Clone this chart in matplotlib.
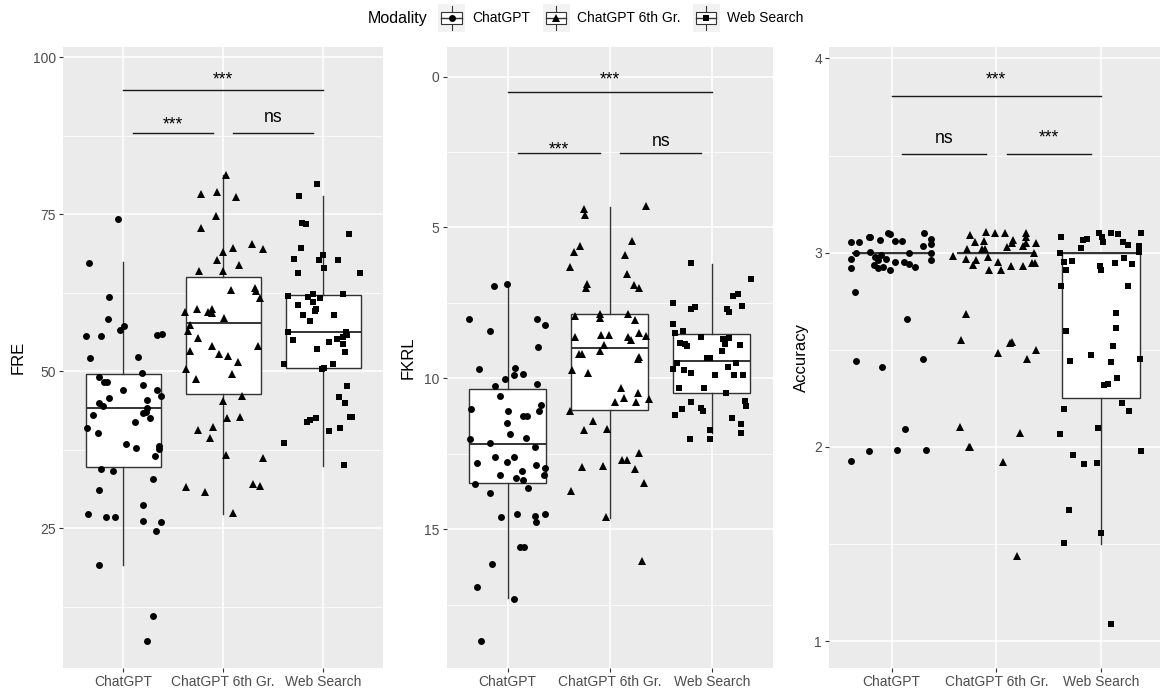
import numpy as np
import matplotlib
matplotlib.use("Agg")
import matplotlib.pyplot as plt
from matplotlib.patches import Rectangle
from matplotlib.lines import Line2D
from matplotlib.legend_handler import HandlerBase
from matplotlib.transforms import offset_copy

plt.rcParams["font.family"] = ["Liberation Sans", "DejaVu Sans"]

# ─────────────────────────────────────────────
# CATEGORIES
# ─────────────────────────────────────────────
MODALITIES = ["ChatGPT", "ChatGPT 6th Gr.", "Web Search"]
MARKERS = ["o", "^", "s"]
MARKER_SIZES = [5.0, 5.6, 4.7]

# ─────────────────────────────────────────────
# BOX STATS  (lower whisker, Q1, median, Q3, upper whisker)
# ─────────────────────────────────────────────
fre_box = [[19.1, 34.8, 44.1, 49.6, 67.4],
           [27.3, 46.4, 57.7, 65.0, 81.3],
           [34.9, 50.5, 56.3, 62.2, 77.9]]
fkrl_box = [[6.88, 10.35, 12.18, 13.48, 17.29],
            [4.31, 7.88, 8.98, 11.05, 14.62],
            [6.22, 8.54, 9.42, 10.49, 11.82]]
acc_box = [[3.0, 3.0, 3.0, 3.0, 3.0],
           [3.0, 3.0, 3.0, 3.0, 3.0],
           [1.50, 2.25, 3.0, 3.0, 3.0]]

# ─────────────────────────────────────────────
# JITTERED POINTS  (x jitter around the category, value)
# ─────────────────────────────────────────────
fre_gpt_jit = [-0.05, -0.34, -0.14, -0.15, -0.03, 0.01, -0.37, -0.22, 0.34, 0.39, -0.33, 0.15, 0.19,
               -0.24, -0.19, -0.16, 0.20, 0.0, 0.34, 0.38, -0.14, 0.24, -0.24, -0.20, 0.24, 0.20,
               0.23, -0.30, 0.27, 0.12, -0.36, -0.25, 0.03, 0.13, 0.36, 0.36, 0.32, -0.22, -0.10,
               0.30, -0.24, 0.20, -0.35, -0.17, -0.08, 0.20, 0.38, 0.33, -0.24, 0.30, 0.24]
fre_gpt_val = [74.2, 67.3, 61.8, 58.3, 56.6, 57.2, 55.7, 55.7, 55.8, 56.0, 52.1, 52.3, 49.7,
               49.1, 48.3, 48.3, 47.8, 47.0, 47.0, 46.1, 45.8, 45.5, 44.9, 44.5, 44.1, 43.4,
               43.5, 43.1, 42.5, 41.9, 40.9, 40.1, 38.4, 37.8, 38.1, 37.6, 36.5, 34.5, 34.1,
               32.8, 31.1, 28.7, 27.3, 26.8, 26.8, 26.2, 26.0, 24.5, 19.1, 11.1, 7.0]

fre_g6_jit = [0.03, -0.22, -0.06, 0.13, -0.07, -0.22, 0.29, 0.10, 0.40, 0.0, -0.06, 0.16, -0.24,
              0.0, 0.08, 0.32, 0.33, 0.37, -0.38, -0.26, -0.15, -0.11, -0.11, 0.01, -0.33, -0.35,
              -0.25, 0.35, -0.11, -0.04, 0.05, -0.33, 0.15, -0.37, 0.09, -0.27, 0.0, 0.19, 0.04,
              0.17, -0.25, -0.10, -0.13, 0.03, 0.40, -0.37, -0.18, 0.30, 0.37, 0.10]
fre_g6_val = [81.3, 78.3, 78.6, 77.7, 74.8, 72.9, 70.3, 69.7, 69.4, 69.0, 67.7, 66.9, 66.0,
              66.0, 63.0, 63.2, 62.8, 61.7, 59.4, 60.0, 59.5, 60.0, 59.3, 58.5, 57.3, 56.4,
              55.3, 54.1, 54.0, 52.8, 52.5, 53.2, 51.5, 50.3, 49.5, 48.7, 45.2, 46.0, 42.5,
              42.8, 40.6, 41.1, 39.4, 36.6, 36.2, 31.6, 30.7, 32.0, 31.7, 27.5]

fre_web_jit = [-0.06, -0.24, -0.21, -0.17, 0.26, -0.22, -0.29, 0.0, -0.04, 0.15, 0.01, -0.25, 0.37,
               -0.35, -0.15, -0.10, -0.03, 0.20, -0.25, -0.10, -0.07, -0.08, -0.20, 0.11, -0.13,
               -0.35, -0.30, 0.23, 0.24, 0.20, 0.14, 0.06, 0.20, -0.06, 0.22, -0.39, 0.10, 0.01,
               -0.01, 0.24, 0.16, 0.22, 0.27, 0.29, -0.07, -0.16, -0.13, 0.06, 0.17, -0.39, 0.21]
fre_web_val = [79.9, 77.9, 73.6, 73.4, 71.8, 69.6, 67.9, 68.6, 67.7, 67.8, 66.4, 65.7, 65.7,
               62.0, 61.9, 62.3, 61.7, 62.3, 60.5, 61.0, 60.0, 59.6, 58.9, 58.9, 58.0,
               56.2, 55.0, 56.3, 55.8, 55.5, 55.2, 54.7, 54.3, 53.5, 53.1, 51.1, 51.1, 50.5,
               50.4, 47.6, 45.9, 44.9, 42.7, 42.8, 42.6, 41.9, 42.2, 40.5, 40.9, 38.6, 35.0]

fkrl_gpt_jit = [-0.13, -0.01, -0.38, -0.17, 0.29, 0.37, 0.30, -0.28, 0.07, 0.15, 0.06, -0.03, -0.12,
                0.29, -0.08, -0.36, 0.0, 0.33, 0.31, 0.15, 0.19, -0.01, -0.37, -0.17, 0.02, 0.18,
                0.27, -0.30, -0.12, -0.01, 0.06, 0.28, 0.37, -0.08, 0.14, 0.08, 0.36, 0.15, -0.32,
                0.20, -0.17, -0.07, 0.09, 0.27, 0.37, 0.28, 0.12, 0.16, -0.15, -0.30, 0.06, -0.26]
fkrl_gpt_val = [6.93, 6.88, 8.02, 8.43, 8.02, 8.23, 8.95, 9.68, 9.65, 9.87, 9.90, 10.03, 10.25,
                10.19, 10.57, 11.03, 11.08, 10.89, 11.08, 11.24, 11.24, 11.47, 12.02, 12.13, 11.85, 11.99,
                12.28, 12.79, 12.60, 12.76, 12.60, 12.87, 12.96, 13.22, 13.07, 13.29, 13.22, 13.37, 13.50,
                13.64, 13.81, 14.58, 14.50, 14.55, 14.50, 14.75, 15.58, 15.60, 16.15, 16.90, 17.32, 18.70]

fkrl_g6_jit = [-0.25, -0.24, 0.36, 0.22, -0.29, -0.35, 0.15, -0.39, 0.17, -0.22, -0.23, 0.24, 0.29,
               -0.10, 0.18, -0.10, -0.34, 0.25, -0.34, -0.09, -0.01, 0.18, 0.21, 0.29, 0.36, -0.06,
               -0.30, -0.27, -0.10, 0.28, 0.29, -0.37, -0.21, 0.11, 0.05, 0.14, 0.28, 0.26, 0.39,
               -0.39, -0.16, -0.25, -0.03, -0.27, -0.07, 0.12, 0.17, 0.29, 0.25, 0.34, -0.38, -0.04, 0.32]
fkrl_g6_val = [4.40, 4.58, 4.29, 5.45, 5.61, 5.83, 5.91, 6.32, 6.55, 6.88, 7.01, 6.90, 7.01,
               7.87, 7.87, 7.99, 7.95, 8.06, 8.62, 8.58, 8.58, 8.62, 8.73, 8.51, 8.60, 8.89,
               9.19, 9.19, 9.08, 9.37, 9.28, 9.72, 9.83, 10.31, 10.77, 10.66, 10.50, 10.77, 10.69,
               11.07, 11.43, 11.71, 11.69, 12.93, 12.89, 12.70, 12.70, 12.46, 13.00, 13.48, 13.72, 14.60, 16.07]

fkrl_web_jit = [-0.20, 0.39, 0.21, 0.26, -0.38, -0.16, -0.20, 0.15, 0.17, 0.30, -0.38, -0.36, -0.28,
                -0.10, 0.11, 0.17, -0.31, -0.26, -0.24, 0.13, 0.28, 0.10, -0.05, -0.02, -0.38, -0.27,
                -0.20, 0.03, 0.16, 0.24, 0.22, 0.31, -0.34, -0.32, -0.08, 0.14, -0.36, -0.29, -0.20,
                -0.10, -0.09, 0.20, 0.33, 0.34, 0.29, -0.02, -0.21, -0.02, 0.29]
fkrl_web_val = [6.19, 6.71, 7.27, 7.21, 7.51, 7.62, 7.70, 7.71, 7.79, 7.60, 8.21, 8.51, 8.43,
                8.62, 8.71, 8.67, 8.84, 8.86, 8.93, 8.87, 8.89, 9.11, 9.33, 9.33, 9.70, 9.72,
                9.81, 9.90, 9.61, 9.50, 9.89, 9.89, 9.50, 10.31, 10.31, 10.50, 11.21, 11.03, 10.80,
                10.99, 11.07, 11.30, 10.75, 10.92, 11.51, 11.71, 12.01, 12.01, 11.82]

acc_gpt_jit = [-0.39, -0.31, -0.22, -0.21, -0.11, -0.04, -0.02, 0.03, 0.10, 0.31, 0.38, 0.38, 0.30,
               -0.34, -0.21, 0.17, 0.38, -0.39, -0.16, -0.13, -0.10, -0.05, 0.03, 0.12, -0.17, -0.13,
               -0.02, -0.08, 0.38, 0.22, 0.17, -0.39, -0.35, 0.15, -0.34, -0.09, 0.30, 0.13, -0.22,
               0.05, 0.33, -0.39]
acc_gpt_val = [3.053, 3.053, 3.082, 3.082, 3.065, 3.100, 3.094, 3.060, 3.060, 3.100, 3.068, 3.044, 3.036,
               3.000, 3.005, 3.000, 3.000, 2.967, 2.979, 2.962, 2.988, 2.965, 2.953, 2.953, 2.936, 2.922,
               2.910, 2.927, 2.962, 2.924, 2.941, 2.919, 2.800, 2.658, 2.444, 2.410, 2.451, 2.092, 1.979,
               1.984, 1.984, 1.929]

acc_g6_jit = [-0.10, -0.01, 0.08, -0.25, 0.28, 0.28, -0.20, -0.12, 0.16, 0.15, 0.25, 0.28, 0.38,
              -0.28, -0.14, -0.11, 0.10, 0.36, -0.41, -0.29, -0.19, -0.08, 0.02, -0.22, -0.07, 0.04,
              0.14, 0.25, 0.34, 0.37, -0.29, -0.34, 0.13, 0.15, 0.02, 0.29, 0.38, -0.35, -0.26,
              -0.25, 0.23, 0.06, 0.20]
acc_g6_val = [3.104, 3.100, 3.100, 3.090, 3.100, 3.082, 3.055, 3.060, 3.065, 3.048, 3.034, 3.048, 3.048,
              3.017, 3.017, 3.017, 3.027, 3.000, 2.985, 2.970, 2.962, 2.979, 2.953, 2.936, 2.910, 2.910,
              2.933, 2.933, 2.948, 2.945, 2.682, 2.550, 2.536, 2.541, 2.482, 2.452, 2.499, 2.104, 2.000,
              2.000, 2.070, 1.921, 1.440]

acc_web_jit = [-0.38, -0.17, -0.13, -0.02, 0.01, 0.10, 0.16, 0.02, 0.21, 0.26, 0.38, 0.36, 0.36,
               -0.19, -0.39, -0.28, -0.35, -0.33, -0.01, 0.00, 0.13, 0.22, 0.30, -0.38, 0.26, 0.14,
               -0.33, 0.14, 0.11, -0.10, -0.30, 0.10, 0.37, 0.15, 0.03, 0.07, -0.35, 0.20, 0.27,
               -0.03, -0.39, -0.27, -0.16, -0.04, 0.38, -0.31, -0.35, 0.00, 0.10]
acc_web_val = [3.082, 3.065, 3.070, 3.100, 3.082, 3.099, 3.094, 3.053, 3.056, 3.039, 3.100, 3.034, 3.005,
               3.022, 2.996, 2.957, 2.950, 2.910, 2.933, 2.910, 2.948, 2.974, 2.941, 2.828, 2.828, 2.688,
               2.597, 2.610, 2.520, 2.473, 2.440, 2.435, 2.452, 2.356, 2.319, 2.324, 2.195, 2.224, 2.185,
               2.096, 2.065, 1.958, 1.915, 1.918, 1.979, 1.675, 1.504, 1.558, 1.087]

# ─────────────────────────────────────────────
# SIGNIFICANCE BRACKETS  (x1, x2, line y, label y, label)
# ─────────────────────────────────────────────
fre_sig = [(1.0, 3.0, 94.86, 97.25, "***"), (1.1, 1.9, 87.95, 90.05, "***"), (2.1, 2.9, 87.95, 89.70, "ns")]
fkrl_sig = [(1.0, 3.0, 0.50, -0.08, "***"), (1.1, 1.9, 2.52, 2.24, "***"), (2.1, 2.9, 2.52, 2.30, "ns")]
acc_sig = [(1.0, 3.0, 3.806, 3.918, "***"), (1.1, 1.9, 3.506, 3.563, "ns"), (2.1, 2.9, 3.506, 3.617, "***")]

# ─────────────────────────────────────────────
# PANEL LAYOUT (pixels) AND AXES SETTINGS
# ─────────────────────────────────────────────
W, H = 1160, 698
PANEL_TOP, PANEL_BOT = 47.3, 668.3
panels = [
    dict(left=63.0, right=383.0, ylim=(2.7, 101.6), major=[25, 50, 75, 100], minor=[12.5, 37.5, 62.5, 87.5],
         box=fre_box, jit=[fre_gpt_jit, fre_g6_jit, fre_web_jit], val=[fre_gpt_val, fre_g6_val, fre_web_val],
         sig=fre_sig, title="FRE", title_x=18),
    dict(left=446.5, right=772.9, ylim=(19.61, -0.97), major=[0, 5, 10, 15], minor=[2.5, 7.5, 12.5, 17.5],
         box=fkrl_box, jit=[fkrl_gpt_jit, fkrl_g6_jit, fkrl_web_jit], val=[fkrl_gpt_val, fkrl_g6_val, fkrl_web_val],
         sig=fkrl_sig, title="FKRL", title_x=408),
    dict(left=828.9, right=1163.8, ylim=(0.861, 4.057), major=[1, 2, 3, 4], minor=[1.5, 2.5, 3.5],
         box=acc_box, jit=[acc_gpt_jit, acc_g6_jit, acc_web_jit], val=[acc_gpt_val, acc_g6_val, acc_web_val],
         sig=acc_sig, title="Accuracy", title_x=801.7),
]

fig = plt.figure(figsize=(W / 100, H / 100), dpi=100)
fig.patch.set_facecolor("white")

for p in panels:
    ax = fig.add_axes([p["left"] / W, 1 - PANEL_BOT / H, (p["right"] - p["left"]) / W, (PANEL_BOT - PANEL_TOP) / H])
    ax.set_facecolor("#EBEBEB")
    for s in ax.spines.values():
        s.set_visible(False)

    stats = [dict(whislo=b[0], q1=b[1], med=b[2], q3=b[3], whishi=b[4], fliers=[]) for b in p["box"]]
    ax.bxp(stats, positions=[1, 2, 3], widths=0.75, showcaps=False, showfliers=False, patch_artist=True,
           boxprops=dict(facecolor="white", edgecolor="#333333", linewidth=1.0),
           whiskerprops=dict(color="#333333", linewidth=1.0),
           medianprops=dict(color="#333333", linewidth=1.4), zorder=2)

    # jittered points
    for i in range(3):
        xs = np.array(p["jit"][i]) + i + 1
        ax.plot(xs, p["val"][i], ls="none", marker=MARKERS[i], ms=MARKER_SIZES[i],
                color="black", mew=0, zorder=3)

    # significance brackets
    star_tr = offset_copy(ax.transData, fig=fig, y=-7.3, units="points")
    for x1, x2, yl, yt, lab in p["sig"]:
        ax.plot([x1, x2], [yl, yl], color="#1a1a1a", lw=1.0, zorder=3)
        if lab == "***":
            ax.text((x1 + x2) / 2, yt, lab, transform=star_tr, ha="center", va="baseline", fontsize=12.7)
        else:
            ax.text((x1 + x2) / 2, yt, lab, ha="center", va="baseline", fontsize=12.7)

    ax.set_xlim(0.4, 3.6)
    ax.set_ylim(*p["ylim"])
    ax.set_xticks([1, 2, 3], MODALITIES)
    ax.set_yticks(p["major"])
    ax.set_yticks(p["minor"], minor=True)
    ax.set_axisbelow(True)
    ax.grid(True, which="major", color="white", lw=1.1)
    ax.yaxis.grid(True, which="minor", color="white", lw=0.55)
    ax.tick_params(which="major", length=3.0, width=0.8, color="#333333", labelcolor="#4D4D4D",
                   labelsize=10, pad=2)
    ax.tick_params(which="minor", length=0)

    fig.text(p["title_x"] / W, 1 - (PANEL_TOP + PANEL_BOT) / 2 / H, p["title"], rotation=90,
             ha="center", va="center", fontsize=12)


# ─────────────────────────────────────────────
# LEGEND: boxplot keys with the point shape
# ─────────────────────────────────────────────
class BoxKey(HandlerBase):
    def __init__(self, marker, ms):
        super().__init__()
        self.marker = marker
        self.ms = ms

    def create_artists(self, legend, orig_handle, xdescent, ydescent, width, height, fontsize, trans):
        x0, y0 = -xdescent, -ydescent
        cx, cy = x0 + width / 2, y0 + height / 2
        bg = Rectangle((x0, y0), width, height, facecolor="#F2F2F2", edgecolor="none", transform=trans)
        wh = Line2D([cx, cx], [y0 + height * 0.08, y0 + height * 0.92], color="#333333", lw=0.8, transform=trans)
        bx = Rectangle((x0 + width * 0.12, y0 + height * 0.3), width * 0.76, height * 0.4,
                       facecolor="white", edgecolor="#333333", lw=0.8, transform=trans)
        md = Line2D([x0 + width * 0.12, x0 + width * 0.88], [cy, cy], color="#333333", lw=1.0, transform=trans)
        pt = Line2D([cx], [cy], ls="none", marker=self.marker, ms=self.ms, color="black", mew=0, transform=trans)
        return [bg, wh, bx, md, pt]


handles = [Line2D([], []) for _ in MODALITIES]
hmap = {h: BoxKey(m, s) for h, m, s in zip(handles, MARKERS, MARKER_SIZES)}
fig.legend(handles, MODALITIES, handler_map=hmap, loc="center left",
           bbox_to_anchor=(438 / W, 1 - 18 / H), ncol=3, frameon=False, fontsize=10,
           handlelength=1.95, handleheight=2.7, handletextpad=0.55, columnspacing=0.85,
           borderpad=0, borderaxespad=0)
fig.text(368 / W, 1 - 18 / H, "Modality", ha="left", va="center", fontsize=11.5)

fig.savefig("out.png", dpi=100)
